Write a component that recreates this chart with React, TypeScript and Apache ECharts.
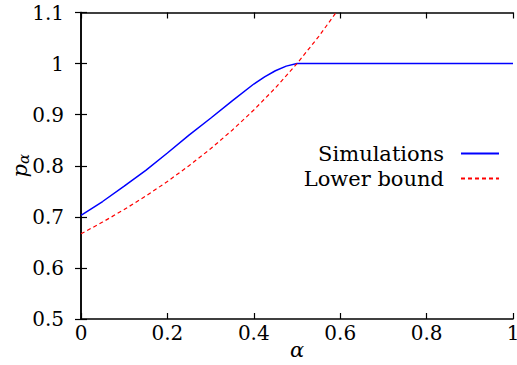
import React, { useEffect, useRef } from "react";
import * as echarts from "echarts";

const X_TICK_LABELS = ["0", "0.2", "0.4", "0.6", "0.8", "1"];
const Y_TICK_LABELS = ["0.5", "0.6", "0.7", "0.8", "0.9", "1", "1.1"];

const SIM_ALPHA = [0, 0.05, 0.1, 0.15, 0.2, 0.25, 0.3, 0.35, 0.4, 0.425, 0.45, 0.475, 0.5, 0.75, 1.0];
const SIM_P = [0.703, 0.73, 0.76, 0.791, 0.825, 0.86, 0.893, 0.927, 0.96, 0.974, 0.986, 0.995, 1.0, 1.0, 1.0];

const LB_ALPHA = [0, 0.05, 0.1, 0.15, 0.2, 0.25, 0.3, 0.35, 0.4, 0.45, 0.5, 0.55, 0.6];
const LB_P = [0.6667, 0.6897, 0.7143, 0.7407, 0.7692, 0.8, 0.8333, 0.8696, 0.9091, 0.9524, 1.0, 1.0526, 1.1111];

const FONT = "DejaVu Serif";

export default function App() {
  const ref = useRef<HTMLDivElement>(null);
  useEffect(() => {
    if (!ref.current) return;
    const chart = echarts.init(ref.current, null, { renderer: "svg" });
    const axisLine = { show: true, lineStyle: { color: "#000", width: 1.5 } };
    const tick = { show: true, inside: true, length: 6, lineStyle: { color: "#000", width: 1.2 } };
    const xLabel = (v: number) => X_TICK_LABELS[Math.round(v / 0.2)] ?? "";
    const yLabel = (v: number) => Y_TICK_LABELS[Math.round((v - 0.5) / 0.1)] ?? "";
    chart.setOption({
      animation: false,
      textStyle: { fontFamily: FONT },
      grid: { left: 81, right: 4, top: 12.5, bottom: 46, containLabel: false, outerBoundsMode: "none" },
      legend: {
        orient: "vertical",
        align: "right",
        right: 17,
        top: 141,
        padding: 0,
        itemGap: 0,
        itemWidth: 38,
        itemHeight: 14,
        itemStyle: { opacity: 0 },
        textStyle: {
          fontFamily: FONT,
          fontSize: 21,
          color: "#000",
          lineHeight: 25,
          padding: [0, 12, 0, 0],
        },
        data: ["Simulations", "Lower bound"],
      },
      xAxis: [
        {
          type: "value",
          min: 0,
          max: 1,
          interval: 0.2,
          position: "bottom",
          axisLine,
          axisTick: tick,
          splitLine: { show: false },
          axisLabel: { formatter: xLabel, fontFamily: FONT, fontSize: 20, color: "#000", margin: 4 },
          name: "α",
          nameLocation: "middle",
          nameGap: 20,
          nameMoveOverlap: false,
          nameTextStyle: { fontFamily: FONT, fontSize: 21, fontStyle: "italic", color: "#000" },
        },
        {
          type: "value",
          min: 0,
          max: 1,
          interval: 0.2,
          position: "top",
          axisLine,
          axisTick: tick,
          splitLine: { show: false },
          axisLabel: { show: false },
        },
      ],
      yAxis: [
        {
          type: "value",
          min: 0.5,
          max: 1.1,
          interval: 0.1,
          position: "left",
          axisLine,
          axisTick: tick,
          splitLine: { show: false },
          axisLabel: { formatter: yLabel, fontFamily: FONT, fontSize: 20, color: "#000", margin: 17 },
          name: "{p|p}{a|α}",
          nameLocation: "middle",
          nameRotate: 90,
          nameGap: 50,
          nameMoveOverlap: false,
          nameTextStyle: {
            fontFamily: FONT,
            color: "#000",
            rich: {
              p: { fontFamily: FONT, fontSize: 21, fontStyle: "italic", color: "#000" },
              a: { fontFamily: FONT, fontSize: 15, fontStyle: "italic", color: "#000", padding: [7, 0, 0, 0] },
            },
          },
        },
        {
          type: "value",
          min: 0.5,
          max: 1.1,
          interval: 0.1,
          position: "right",
          axisLine,
          axisTick: tick,
          splitLine: { show: false },
          axisLabel: { show: false },
        },
      ],
      series: [
        {
          name: "Simulations",
          type: "line",
          data: SIM_ALPHA.map((a, i) => [a, SIM_P[i]]),
          symbol: "none",
          clip: true,
          itemStyle: { color: "#0000ff" },
          lineStyle: { color: "#0000ff", width: 1.5 },
        },
        {
          name: "Lower bound",
          type: "line",
          data: LB_ALPHA.map((a, i) => [a, LB_P[i]]),
          symbol: "none",
          clip: true,
          itemStyle: { color: "#ff0000" },
          lineStyle: { color: "#ff0000", width: 1.2, type: [4, 3] },
        },
      ],
    });
    return () => chart.dispose();
  }, []);
  return (
    <div
      ref={ref}
      style={{ position: "fixed", left: 0, top: 0, width: 517, height: 365, background: "#fff" }}
    />
  );
}
